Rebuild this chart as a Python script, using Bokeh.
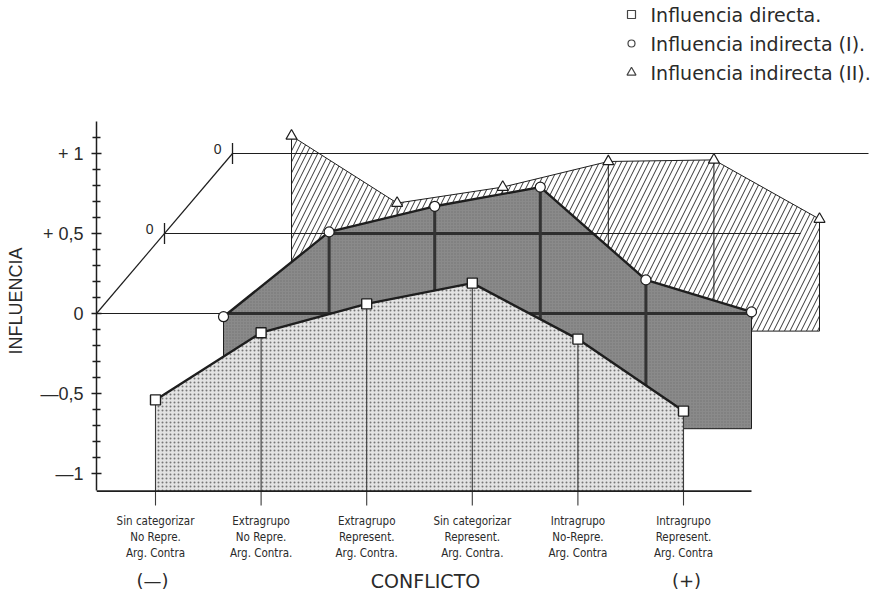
from bokeh.plotting import figure
from bokeh.models import Range1d, FixedTicker
from bokeh.core.properties import value
from bokeh.embed import file_html
from bokeh.resources import INLINE

# ---------------- data ----------------
categories = [
    ["Sin categorizar", "No Repre.", "Arg. Contra"],
    ["Extragrupo", "No Repre.", "Arg. Contra."],
    ["Extragrupo", "Represent.", "Arg. Contra."],
    ["Sin categorizar", "Represent.", "Arg. Contra."],
    ["Intragrupo", "No-Repre.", "Arg. Contra"],
    ["Intragrupo", "Represent.", "Arg. Contra"],
]
influencia_directa = [-0.54, -0.12, 0.06, 0.19, -0.16, -0.61]
influencia_indirecta_1 = [-0.52, 0.01, 0.17, 0.29, -0.29, -0.49]
influencia_indirecta_2 = [0.11, -0.31, -0.21, -0.05, -0.04, -0.41]
layer_floor = [-1.11, -1.22, -1.11]
series_names = ["Influencia directa.", "Influencia indirecta (I).", "Influencia indirecta (II)."]
ytick_values = [-1, -0.5, 0, 0.5, 1]
ytick_labels = ["\u20141", "\u20140,5", "0", "+ 0,5", "+ 1"]
yminor_values = [-0.9, -0.8, -0.7, -0.6, -0.4, -0.3, -0.2, -0.1,
                 0.1, 0.2, 0.3, 0.4, 0.6, 0.7, 0.8, 0.9, 1.1]
xaxis_title = "CONFLICTO"
yaxis_title = "INFLUENCIA"
pole_labels = ["(\u2014)", "(+)"]
layer_origin_label = "0"

# ---------------- layout constants ----------------
DX = 0.644      # oblique shift of each layer along x (category units)
DY = 0.5        # oblique shift of each layer along y (influence units)
N = len(categories)


def X(px):
    return (px - 155) / 105.6


def Y(py):
    return (313 - py) / 160


XL, XR = X(96), X(875)
YB, YT = Y(601), Y(0)
AX_BOTTOM, AX_TOP = -1.106, 1.2

INK = "#1e1e1e"
TXT = "#2a2a2a"
FONT = "Liberation Sans"
WIDE = "DejaVu Sans"
NARROW = "DejaVu Sans Condensed, Liberation Sans"

p = figure(width=875, height=601, x_range=Range1d(XL, XR), y_range=Range1d(YB, YT),
           x_axis_location=None, toolbar_location=None, output_backend="svg",
           min_border_left=96, min_border_right=0, min_border_top=0, min_border_bottom=0,
           outline_line_color=None, background_fill_color="white", border_fill_color="white")
p.grid.visible = False

# y axis
ax = p.yaxis[0]
ax.ticker = FixedTicker(ticks=ytick_values, minor_ticks=yminor_values)
ax.bounds = (AX_BOTTOM, AX_TOP)
ax.major_label_overrides = dict(zip(ytick_values, ytick_labels))
ax.major_tick_in = 5
ax.major_tick_out = 5
ax.minor_tick_in = 4
ax.minor_tick_out = 4
ax.axis_line_width = 1.5
ax.axis_line_color = INK
ax.major_tick_line_color = INK
ax.minor_tick_line_color = INK
ax.major_tick_line_width = 1.3
ax.minor_tick_line_width = 1.3
ax.major_label_text_font = FONT
ax.major_label_text_font_size = "18px"
ax.major_label_text_color = TXT
ax.major_label_standoff = 8
ax.axis_label = yaxis_title
ax.axis_label_text_font = FONT
ax.axis_label_text_font_size = "18px"
ax.axis_label_text_font_style = "normal"
ax.axis_label_text_color = TXT
ax.axis_label_standoff = 11


def layer(k, vals):
    xs = [i + k * DX for i in range(N)]
    ys = [v + k * DY for v in vals]
    fl = layer_floor[k] + k * DY
    return xs, ys, fl


def runs_above(xs, ys, level):
    segs = []
    start = xs[0] if ys[0] > level else None
    for j in range(len(xs) - 1):
        xa, xb, ya, yb = xs[j], xs[j + 1], ys[j], ys[j + 1]
        if (ya > level) != (yb > level):
            xc = xa + (level - ya) * (xb - xa) / (yb - ya)
            if start is None:
                start = xc
            else:
                segs.append((start, xc))
                start = None
    if start is not None:
        segs.append((start, xs[-1]))
    return segs


x3, y3, f3 = layer(2, influencia_indirecta_2)
x2, y2, f2 = layer(1, influencia_indirecta_1)
x1, y1, f1 = layer(0, influencia_directa)

# ---- layer 3 (back, hatched) ----
p.patch(x3 + [x3[-1], x3[0]], y3 + [f3, f3], fill_color="white",
        hatch_pattern="/", hatch_color=INK, hatch_scale=11, hatch_weight=0.9,
        line_color=INK, line_width=1)

# reference lines of each layer level
p.line([XL, 5 + DX], [0, 0], line_color=INK, line_width=1.2)
p.line([XL + DX, X(800)], [DY, DY], line_color=INK, line_width=1.2)
p.line([XL + 2 * DX, X(868)], [2 * DY, 2 * DY], line_color=INK, line_width=1.2)
p.line([XL, XL + 2 * DX], [0, 2 * DY], line_color=INK, line_width=1.2)
p.segment(x0=[XL + DX, XL + 2 * DX], y0=[DY - 0.065, 2 * DY - 0.065],
          x1=[XL + DX, XL + 2 * DX], y1=[DY + 0.065, 2 * DY + 0.065],
          line_color=INK, line_width=1.3)
p.text(x=[XL + DX - 0.14, XL + 2 * DX - 0.14], y=[DY + 0.03, 2 * DY + 0.03],
       text=[layer_origin_label] * 2, text_font=value(FONT), text_font_size="14px",
       text_color=TXT, text_align="center", text_baseline="middle")

p.segment(x0=x3[1:-1], y0=y3[1:-1], x1=x3[1:-1], y1=[f3] * (N - 2),
          line_color=INK, line_width=1)

# ---- layer 2 (middle, dark grey) ----
p.patch(x2 + [x2[-1], x2[0]], y2 + [f2, f2], fill_color="#8a8a8a",
        hatch_pattern=".", hatch_color="#727272", hatch_scale=3, hatch_weight=0.8,
        line_color=None)
for lev in (0.0, -0.5):
    for a, b in runs_above(x2, [v - DY for v in y2], lev):
        p.line([a, b], [lev + DY, lev + DY], line_color="#2e2e2e", line_width=3)
p.segment(x0=x2[1:-1], y0=y2[1:-1], x1=x2[1:-1], y1=[f2] * (N - 2),
          line_color="#333333", line_width=3)
p.line([x2[0], x2[0], x2[-1], x2[-1]], [y2[0], f2, f2, y2[-1]], line_color=INK, line_width=1)
p.line(x2, y2, line_color=INK, line_width=2.4)

# ---- layer 1 (front, light dotted) ----
p.patch(x1 + [x1[-1], x1[0]], y1 + [f1, f1], fill_color="#e3e3e3",
        hatch_pattern=".", hatch_color="#767676", hatch_scale=4, hatch_weight=1,
        line_color=None)
p.segment(x0=x1, y0=y1, x1=x1, y1=[f1 - 0.09] * N, line_color="#3a3a3a", line_width=1.1)
p.line(x1, y1, line_color=INK, line_width=2.4)
p.line([XL, 5 + DX], [f1, f1], line_color=INK, line_width=1.6)

# ---- markers ----
p.scatter(x3, y3, marker="triangle", size=11, fill_color="white", line_color=INK, line_width=1.2)
p.scatter(x2, y2, marker="circle", size=10, fill_color="white", line_color=INK, line_width=1.2)
p.scatter(x1, y1, marker="square", size=10, fill_color="white", line_color=INK, line_width=1.4)

# ---- category labels ----
for row, py in enumerate([520, 536, 552]):
    p.text(x=list(range(N)), y=[Y(py)] * N, text=[c[row] for c in categories],
           text_font=value(NARROW), text_font_size="11.5px", text_color=TXT,
           text_align="center", text_baseline="middle")

p.text(x=[X(152), X(686)], y=[Y(580)] * 2, text=pole_labels, text_font=value(WIDE),
       text_font_size="18px", text_color=TXT, text_align="center", text_baseline="middle")
p.text(x=[X(425)], y=[Y(580)], text=[xaxis_title], text_font=value(WIDE),
       text_font_size="19px", text_color=TXT, text_align="center", text_baseline="middle")

# ---- legend ----
leg_y = [Y(14), Y(43), Y(72)]
p.scatter([X(631)] * 3, leg_y, marker=["square", "circle", "triangle"], size=[8, 7, 9],
          fill_color="white", line_color="#444444", line_width=1.2)
p.text(x=[X(650)] * 3, y=leg_y, text=series_names, text_font=value(WIDE),
       text_font_size="19px", text_color=TXT, text_align="left", text_baseline="middle")

open("out.html", "w").write(file_html(p, INLINE))
